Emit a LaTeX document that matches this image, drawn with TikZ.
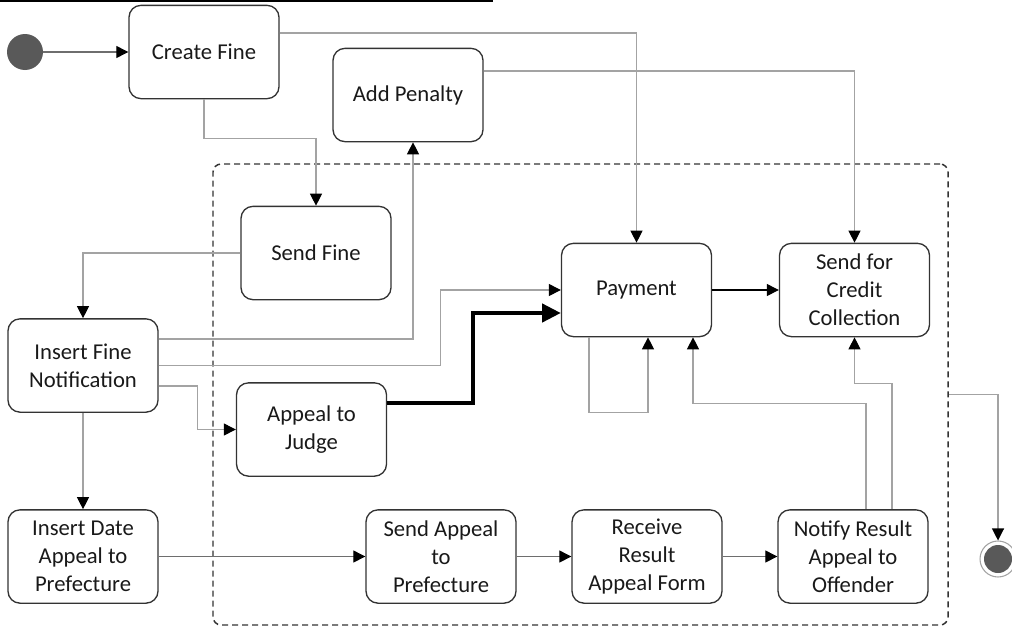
\documentclass[tikz,border=0pt]{standalone}
\usepackage{fontspec}
\setmainfont{Carlito}
\usetikzlibrary{arrows.meta,calc}
\definecolor{edge}{HTML}{333333}
\definecolor{wire}{HTML}{A3A3A3}
\definecolor{wiredark}{HTML}{6E6E6E}
\definecolor{dot}{HTML}{595959}
\begin{document}
\begin{tikzpicture}[x=0.75pt,y=-0.75pt,
  act/.style={draw=edge, line width=1pt, rounded corners=9pt,
    minimum width=112.5pt, minimum height=70pt, inner sep=0pt,
    align=center, font=\fontsize{17}{21}\selectfont, text=black!90},
  conn/.style={draw=wire, line width=0.8pt,
    -{Triangle[length=9pt,width=9pt,color=black]}},
  conndark/.style={conn, draw=wiredark},
  heavy/.style={draw=black, line width=3pt,
    -{Triangle[length=14pt,width=13.5pt]}},
  group/.style={draw=edge, line width=1.1pt, dash pattern=on 4.5pt off 3pt,
    rounded corners=6pt, minimum width=551.25pt, minimum height=345.75pt,
    inner sep=0pt},
  initial/.style={circle, fill=dot, minimum size=27pt, inner sep=0pt},
  final/.style={circle, draw=wire, line width=0.8pt, fill=white,
    minimum size=27pt, inner sep=0pt, path picture={
      \fill[dot] (path picture bounding box.center) circle (10.5pt);}}
]
\useasboundingbox (0,0) rectangle (1012,628);

% rule across the top
\draw[black, line width=1.5pt] (0,1) coordinate (ruleA) -- (493,1) coordinate (ruleB);

% enclosing region
\node[group] (grp) at (580.5,394.5) {};

% start and end
\node[initial] (start) at (25,52) {};
\node[final] (end) at (998,559) {};

% activities
\node[act] (cf)  at (204,52)    {Create Fine};
\node[act] (ap)  at (408,95)    {Add Penalty};
\node[act] (sf)  at (316,253)   {Send Fine};
\node[act] (ifn) at (83,365.5)  {Insert Fine\\Notification};
\node[act] (aj)  at (311.5,429.5) {Appeal to\\Judge};
\node[act] (idp) at (83,556.5)  {Insert Date\\Appeal to\\Prefecture};
\node[act] (sap) at (441,556.5) {Send Appeal\\to\\Prefecture};
\node[act] (rr)  at (647,556.5) {Receive\\Result\\Appeal Form};
\node[act] (nr)  at (853,556.5) {Notify Result\\Appeal to\\Offender};
\node[act] (pay) at (636.5,290) {\raisebox{-2pt}{Payment}};
\node[act] (scc) at (854.5,290) {Send for\\Credit\\Collection};

% flows
\draw[conndark] (start) -- (cf);
\draw[conn] ($(cf.east)+(0,-19)$) -| (pay.north);
\draw[conn] ($(ap.east)+(0,-24)$) -| (scc.north);
\draw[conn] (cf.south) -- ++(0,39) -| (sf.north);
\draw[conn] (sf.west) -| (ifn.north);
\draw[conn] ($(ifn.east)+(0,-26.5)$) -| ($(ap.south)+(5,0)$);
\draw[conn] (ifn.east) -- ++(282,0) |- (pay.west);
\draw[conn] ($(ifn.east)+(0,20.5)$) -- ++(39,0) |- (aj.west);
\draw[heavy] ($(aj.east)+(0,-26.5)$) -- ++(86,0) |- ($(pay.west)+(0,23)$);
\draw[conn, draw=black] (pay) -- (scc);
\draw[conn] ($(pay.south)+(-47.5,0)$) -- ++(0,75) -| ($(pay.south)+(11.5,0)$);
\draw[conn] ($(nr.north)+(13,0)$) -- ++(0,-106) -| ($(pay.south)+(56.5,0)$);
\draw[conn] ($(nr.north)+(39,0)$) -- ++(0,-126) -| (scc.south);
\draw[conn] (ifn) -- (idp);
\draw[conndark] (idp) -- (sap);
\draw[conndark] (sap) -- (rr);
\draw[conndark] (rr) -- (nr);
\draw[conn] (grp.east) -| (end.north);
\end{tikzpicture}
\end{document}
